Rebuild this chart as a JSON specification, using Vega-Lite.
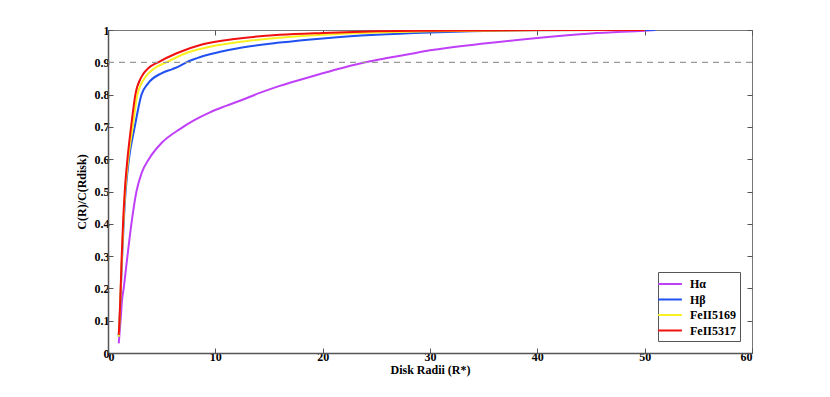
{
  "$schema": "https://vega.github.io/schema/vega-lite/v6.json",
  "width": 644,
  "height": 323,
  "autosize": {"type": "none"},
  "padding": {"left": 108, "top": 30, "right": 78, "bottom": 44},
  "background": "white",
  "config": {
    "font": "Liberation Serif, Times New Roman, serif",
    "view": {"stroke": "#777", "strokeWidth": 1},
    "axis": {"labelFont": "Liberation Serif, Times New Roman, serif", "labelFontWeight": "bold", "labelFontSize": 12, "labelColor": "#000", "titleFont": "Liberation Serif, Times New Roman, serif", "titleFontWeight": "bold", "titleFontSize": 12, "titleColor": "#000", "grid": false, "tickSize": -5, "tickColor": "#555", "domainColor": "#555", "domainWidth": 1.5}
  },
  "datasets": {
    "curves": [
      {"line": "Hα", "r": 1, "c": 0.03}, {"line": "Hα", "r": 1.17, "c": 0.1}, {"line": "Hα", "r": 1.31, "c": 0.164}, {"line": "Hα", "r": 1.46, "c": 0.2}, {"line": "Hα", "r": 1.81, "c": 0.3}, {"line": "Hα", "r": 2.18, "c": 0.4}, {"line": "Hα", "r": 2.65, "c": 0.5}, {"line": "Hα", "r": 3.12, "c": 0.556}, {"line": "Hα", "r": 3.8, "c": 0.6}, {"line": "Hα", "r": 4.98, "c": 0.65}, {"line": "Hα", "r": 6.73, "c": 0.694}, {"line": "Hα", "r": 8, "c": 0.72}, {"line": "Hα", "r": 9.5, "c": 0.745}, {"line": "Hα", "r": 11, "c": 0.765}, {"line": "Hα", "r": 12.6, "c": 0.785}, {"line": "Hα", "r": 14.2, "c": 0.806}, {"line": "Hα", "r": 16, "c": 0.827}, {"line": "Hα", "r": 18, "c": 0.847}, {"line": "Hα", "r": 20, "c": 0.866}, {"line": "Hα", "r": 22, "c": 0.884}, {"line": "Hα", "r": 24, "c": 0.9}, {"line": "Hα", "r": 26, "c": 0.913}, {"line": "Hα", "r": 28, "c": 0.925}, {"line": "Hα", "r": 30, "c": 0.937}, {"line": "Hα", "r": 35, "c": 0.958}, {"line": "Hα", "r": 40, "c": 0.975}, {"line": "Hα", "r": 45, "c": 0.989}, {"line": "Hα", "r": 50, "c": 0.998}, {"line": "Hα", "r": 51, "c": 1.0},
      {"line": "Hβ", "r": 1, "c": 0.05}, {"line": "Hβ", "r": 1.08, "c": 0.1}, {"line": "Hβ", "r": 1.2, "c": 0.2}, {"line": "Hβ", "r": 1.32, "c": 0.3}, {"line": "Hβ", "r": 1.46, "c": 0.4}, {"line": "Hβ", "r": 1.64, "c": 0.5}, {"line": "Hβ", "r": 1.95, "c": 0.6}, {"line": "Hβ", "r": 2.49, "c": 0.7}, {"line": "Hβ", "r": 3.12, "c": 0.8}, {"line": "Hβ", "r": 3.74, "c": 0.835}, {"line": "Hβ", "r": 4.98, "c": 0.866}, {"line": "Hβ", "r": 6.0, "c": 0.879}, {"line": "Hβ", "r": 6.7, "c": 0.889}, {"line": "Hβ", "r": 7.3, "c": 0.9}, {"line": "Hβ", "r": 8.3, "c": 0.913}, {"line": "Hβ", "r": 9.5, "c": 0.925}, {"line": "Hβ", "r": 12, "c": 0.943}, {"line": "Hβ", "r": 16, "c": 0.961}, {"line": "Hβ", "r": 20, "c": 0.974}, {"line": "Hβ", "r": 25, "c": 0.985}, {"line": "Hβ", "r": 30, "c": 0.992}, {"line": "Hβ", "r": 40, "c": 0.999}, {"line": "Hβ", "r": 51, "c": 1.0},
      {"line": "FeII5169", "r": 1, "c": 0.05}, {"line": "FeII5169", "r": 1.08, "c": 0.1}, {"line": "FeII5169", "r": 1.19, "c": 0.2}, {"line": "FeII5169", "r": 1.3, "c": 0.3}, {"line": "FeII5169", "r": 1.43, "c": 0.4}, {"line": "FeII5169", "r": 1.6, "c": 0.5}, {"line": "FeII5169", "r": 1.88, "c": 0.6}, {"line": "FeII5169", "r": 2.3, "c": 0.7}, {"line": "FeII5169", "r": 2.74, "c": 0.8}, {"line": "FeII5169", "r": 3.5, "c": 0.855}, {"line": "FeII5169", "r": 4.3, "c": 0.881}, {"line": "FeII5169", "r": 5.45, "c": 0.9}, {"line": "FeII5169", "r": 7.0, "c": 0.925}, {"line": "FeII5169", "r": 9.5, "c": 0.948}, {"line": "FeII5169", "r": 12, "c": 0.962}, {"line": "FeII5169", "r": 16, "c": 0.976}, {"line": "FeII5169", "r": 20, "c": 0.985}, {"line": "FeII5169", "r": 25, "c": 0.992}, {"line": "FeII5169", "r": 30, "c": 0.996}, {"line": "FeII5169", "r": 40, "c": 0.999}, {"line": "FeII5169", "r": 50, "c": 1.0},
      {"line": "FeII5317", "r": 1, "c": 0.056}, {"line": "FeII5317", "r": 1.07, "c": 0.1}, {"line": "FeII5317", "r": 1.18, "c": 0.2}, {"line": "FeII5317", "r": 1.28, "c": 0.3}, {"line": "FeII5317", "r": 1.4, "c": 0.4}, {"line": "FeII5317", "r": 1.56, "c": 0.5}, {"line": "FeII5317", "r": 1.81, "c": 0.6}, {"line": "FeII5317", "r": 2.15, "c": 0.7}, {"line": "FeII5317", "r": 2.55, "c": 0.8}, {"line": "FeII5317", "r": 3.12, "c": 0.855}, {"line": "FeII5317", "r": 3.8, "c": 0.883}, {"line": "FeII5317", "r": 4.67, "c": 0.9}, {"line": "FeII5317", "r": 6.4, "c": 0.928}, {"line": "FeII5317", "r": 8.75, "c": 0.955}, {"line": "FeII5317", "r": 12, "c": 0.973}, {"line": "FeII5317", "r": 16, "c": 0.985}, {"line": "FeII5317", "r": 20, "c": 0.991}, {"line": "FeII5317", "r": 25, "c": 0.996}, {"line": "FeII5317", "r": 30, "c": 0.998}, {"line": "FeII5317", "r": 40, "c": 1.0}, {"line": "FeII5317", "r": 50, "c": 1.0}
    ]
  },
  "layer": [
    {
      "data": {"name": "curves"},
      "mark": {"type": "line", "strokeWidth": 2, "interpolate": "monotone", "clip": true},
      "encoding": {
        "x": {"field": "r", "type": "quantitative", "scale": {"domain": [0, 60], "nice": false},
              "axis": {"orient": "bottom", "values": [0, 10, 20, 30, 40, 50, 60], "title": "Disk Radii (R*)", "titlePadding": 2, "labelPadding": 3}},
        "y": {"field": "c", "type": "quantitative", "scale": {"domain": [0, 1], "nice": false},
              "axis": {"orient": "left", "values": [0, 0.1, 0.2, 0.3, 0.4, 0.5, 0.6, 0.7, 0.8, 0.9, 1], "format": ".1~f", "title": "C(R)/C(Rdisk)", "titlePadding": 6, "labelPadding": 4}},
        "color": {"field": "line", "type": "nominal",
                  "scale": {"domain": ["Hα", "Hβ", "FeII5169", "FeII5317"], "range": ["#C040F8", "#2050F0", "#F8F020", "#F01010"]},
                  "legend": {"title": null, "orient": "bottom-right", "offset": 12, "symbolType": "M-1.7,0H1.7", "symbolStrokeWidth": 2, "symbolSize": 196, "labelOffset": 12, "labelFont": "Liberation Serif, Times New Roman, serif", "labelFontWeight": "bold", "labelFontSize": 12, "labelColor": "#000", "strokeColor": "#555", "fillColor": "white", "padding": 4, "rowPadding": 1.5}},
        "order": {"field": "line"}
      }
    },
    {
      "data": {"values": [{"r": 0, "c": 0.9}, {"r": 60, "c": 0.9}]},
      "mark": {"type": "line", "color": "#999", "strokeDash": [6, 5], "strokeWidth": 1.2},
      "encoding": {
        "x": {"field": "r", "type": "quantitative", "scale": {"domain": [0, 60], "nice": false},
              "axis": {"orient": "top", "values": [0, 10, 20, 30, 40, 50, 60], "labels": false, "title": null, "domain": false}},
        "y": {"field": "c", "type": "quantitative", "scale": {"domain": [0, 1], "nice": false},
              "axis": {"orient": "right", "values": [0, 0.1, 0.2, 0.3, 0.4, 0.5, 0.6, 0.7, 0.8, 0.9, 1], "labels": false, "title": null, "domain": false}}
      }
    }
  ],
  "resolve": {"axis": {"x": "independent", "y": "independent"}}
}
